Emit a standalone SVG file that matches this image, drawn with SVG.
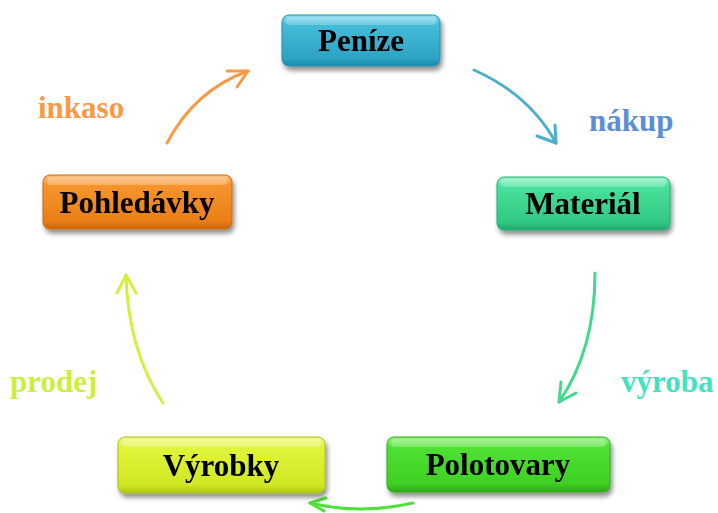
<svg xmlns="http://www.w3.org/2000/svg" width="718" height="513" viewBox="0 0 718 513">
<defs>
<filter id="sh" x="-10%" y="-20%" width="125%" height="150%">
<feGaussianBlur in="SourceAlpha" stdDeviation="2.5"/>
<feOffset dx="2" dy="4" result="b"/>
<feComponentTransfer><feFuncA type="linear" slope="0.45"/></feComponentTransfer>
<feMerge><feMergeNode/><feMergeNode in="SourceGraphic"/></feMerge>
</filter>
<linearGradient id="gBlue" x1="0" y1="0" x2="0" y2="1">
<stop offset="0" stop-color="#8fe0f2"/><stop offset="0.18" stop-color="#45bcd9"/><stop offset="0.85" stop-color="#2ea3c4"/><stop offset="1" stop-color="#1f8aa8"/>
</linearGradient>
<linearGradient id="gTeal" x1="0" y1="0" x2="0" y2="1">
<stop offset="0" stop-color="#93f5c4"/><stop offset="0.18" stop-color="#48e09a"/><stop offset="0.85" stop-color="#30c983"/><stop offset="1" stop-color="#22a86b"/>
</linearGradient>
<linearGradient id="gOrange" x1="0" y1="0" x2="0" y2="1">
<stop offset="0" stop-color="#fbc07a"/><stop offset="0.18" stop-color="#f6952e"/><stop offset="0.85" stop-color="#ea7f16"/><stop offset="1" stop-color="#c9650c"/>
</linearGradient>
<linearGradient id="gYellow" x1="0" y1="0" x2="0" y2="1">
<stop offset="0" stop-color="#f1fb8a"/><stop offset="0.18" stop-color="#e1f43a"/><stop offset="0.85" stop-color="#d2e824"/><stop offset="1" stop-color="#b2c814"/>
</linearGradient>
<linearGradient id="gGreen" x1="0" y1="0" x2="0" y2="1">
<stop offset="0" stop-color="#9af27e"/><stop offset="0.18" stop-color="#4fe234"/><stop offset="0.85" stop-color="#3fd024"/><stop offset="1" stop-color="#2aa815"/>
</linearGradient>
<style>
.lbl{font-family:"Liberation Serif","Times New Roman",serif;font-weight:bold;font-size:31px;fill:#000;text-anchor:middle}
.tag{font-family:"Liberation Serif","Times New Roman",serif;font-weight:bold;font-size:31px}
.hl{fill:#ffffff;opacity:0.25}
.c{fill:none;stroke-width:3;stroke-linecap:round;stroke-linejoin:round}
</style>
</defs>
<rect width="718" height="513" fill="#ffffff"/>

<g id="conn">
<g stroke="#f79a45" class="c"><path d="M167,143 Q195,90 248,71"/><path d="M227,71 L248,71 L237,87"/></g>
<g stroke="#4bafcc" class="c"><path d="M474,70 Q530,95 556,143"/><path d="M537,136 L556,143 L555,125"/></g>
<g stroke="#42d88e" class="c"><path d="M595,273 Q595,350 559,402"/><path d="M561,382 L559,402 L576,393"/></g>
<g stroke="#4fe03a" class="c"><path d="M413,503 Q360,515 310,503"/><path d="M326,498 L310,503 L324,511"/></g>
<g stroke="#d6ee3c" class="c"><path d="M163,403 Q128,350 126,275"/><path d="M117,293 L126,275 L136,293"/></g>
</g>

<g id="penize" filter="url(#sh)">
<rect x="282" y="15" width="158" height="51" rx="7" fill="url(#gBlue)" stroke="#2390ad" stroke-width="1"/>
<rect x="286" y="17" width="150" height="8" rx="4" class="hl"/>
<text x="361" y="51" class="lbl">Peníze</text>
</g>
<g id="material" filter="url(#sh)">
<rect x="497" y="177" width="173" height="53" rx="7" fill="url(#gTeal)" stroke="#25ad70" stroke-width="1"/>
<rect x="501" y="179" width="165" height="8" rx="4" class="hl"/>
<text x="583" y="214" class="lbl">Materiál</text>
</g>
<g id="pohledavky" filter="url(#sh)">
<rect x="43" y="175" width="189" height="54" rx="7" fill="url(#gOrange)" stroke="#c9680e" stroke-width="1"/>
<rect x="47" y="177" width="181" height="8" rx="4" class="hl"/>
<text x="137" y="213" class="lbl">Pohledávky</text>
</g>
<g id="vyrobky" filter="url(#sh)">
<rect x="118" y="437" width="207" height="56" rx="7" fill="url(#gYellow)" stroke="#aabd10" stroke-width="1"/>
<rect x="122" y="439" width="199" height="8" rx="4" class="hl"/>
<text x="221" y="476" class="lbl">Výrobky</text>
</g>
<g id="polotovary" filter="url(#sh)">
<rect x="387" y="437" width="223" height="55" rx="7" fill="url(#gGreen)" stroke="#2fab18" stroke-width="1"/>
<rect x="391" y="439" width="215" height="8" rx="4" class="hl"/>
<text x="498" y="475" class="lbl">Polotovary</text>
</g>

<text x="38" y="118" class="tag" fill="#f79a45">inkaso</text>
<text x="589" y="131" class="tag" fill="#5b8ed6">nákup</text>
<text x="621" y="392" class="tag" fill="#3fe3c0">výroba</text>
<text x="10" y="392" class="tag" fill="#cdee3a">prodej</text>
</svg>
